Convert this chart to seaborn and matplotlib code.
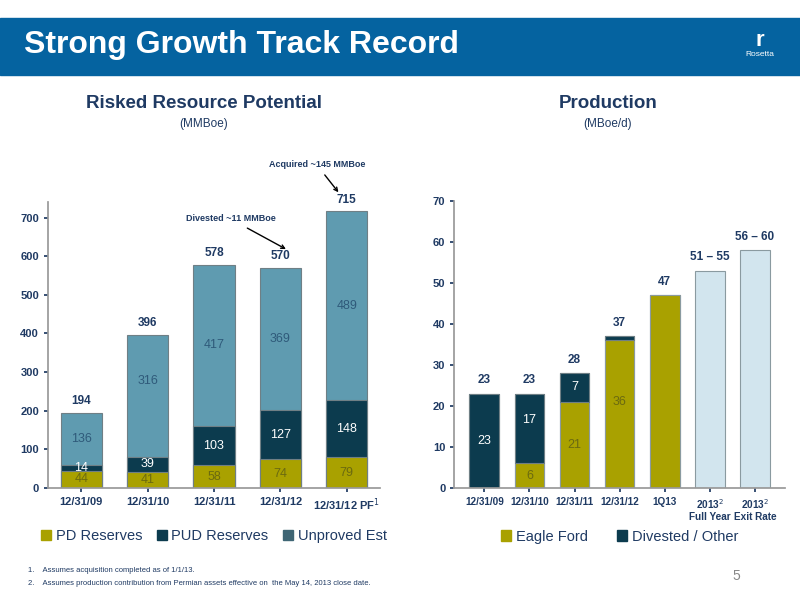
import numpy as np
import pandas as pd
import matplotlib
matplotlib.use("Agg")
import matplotlib.pyplot as plt
import seaborn as sns
from matplotlib.patches import Patch, Rectangle

# ----------- data -----------
res_labels = ["12/31/09", "12/31/10", "12/31/11", "12/31/12", "12/31/12 PF$^1$"]
pd_res = [44, 41, 58, 74, 79]
pud_res = [14, 39, 103, 127, 148]
unproved = [136, 316, 417, 369, 489]
res_totals = [194, 396, 578, 570, 715]

prod_labels = ["12/31/09", "12/31/10", "12/31/11", "12/31/12", "1Q13",
               "2013$^2$\nFull Year", "2013$^2$\nExit Rate"]
eagle_ford = [0, 6, 21, 36, 47, 0, 0]
divested = [23, 17, 7, 1, 0, 0, 0]
guidance = [0, 0, 0, 0, 0, 53, 58]
prod_tops = ["23", "23", "28", "37", "47", "51 – 55", "56 – 60"]

OLIVE = "#A9A100"
DARK = "#0C3B4E"
TEAL = "#5F9BB0"
LIGHT = "#D2E5EE"
NAVY = "#1F3A63"

sns.set_theme(style="white")
plt.rcParams['font.family'] = ['Liberation Sans', 'DejaVu Sans']

fig = plt.figure(figsize=(8, 6), dpi=100)

# header band
fig.patches.append(Rectangle((0, 1 - 75 / 600), 1, 57 / 600, transform=fig.transFigure,
                             color="#0563A0", zorder=0))
fig.text(0.03, 1 - 45 / 600, "Strong Growth Track Record", color="white",
         fontsize=23, fontweight="bold", va="center")
fig.text(0.95, 1 - 55 / 600, "Rosetta", color="white", fontsize=6, ha="center", va="center")
fig.text(0.95, 1 - 40 / 600, "r", color="white", fontsize=16, fontweight="bold",
         ha="center", va="center")

fig.text(0.255, 1 - 103 / 600, "Risked Resource Potential", color=NAVY, fontsize=13.5,
         fontweight="bold", ha="center", va="center")
fig.text(0.255, 1 - 124 / 600, "(MMBoe)", color=NAVY, fontsize=8.5, ha="center", va="center")
fig.text(0.76, 1 - 103 / 600, "Production", color=NAVY, fontsize=13.5,
         fontweight="bold", ha="center", va="center")
fig.text(0.76, 1 - 124 / 600, "(MBoe/d)", color=NAVY, fontsize=8.5, ha="center", va="center")


def style_axis(ax, xsize):
    for s in ["top", "right"]:
        ax.spines[s].set_visible(False)
    for s in ["left", "bottom"]:
        ax.spines[s].set_color("#999999")
    ax.tick_params(colors=NAVY, labelsize=8, length=3, left=True, bottom=True)
    ax.tick_params(axis="x", labelsize=xsize)
    for lbl in ax.get_xticklabels() + ax.get_yticklabels():
        lbl.set_fontweight("bold")
        lbl.set_color(NAVY)
    ax.set_xlabel("")
    ax.set_ylabel("")


# ----------- left chart -----------
ax1 = fig.add_axes([0.06, 0.187, 0.415, 0.476])
df1 = pd.DataFrame({"Date": res_labels, "PD": pd_res, "PUD": pud_res, "Unproved": unproved})
df1["c2"] = df1["PD"] + df1["PUD"]
df1["c3"] = df1["c2"] + df1["Unproved"]
for col, colr in [("c3", TEAL), ("c2", DARK), ("PD", OLIVE)]:
    sns.barplot(data=df1, x="Date", y=col, color=colr, width=0.62, ax=ax1,
                edgecolor="#6f7f85", linewidth=0.8, saturation=1)
ax1.set_ylim(0, 740)
ax1.set_yticks(range(0, 701, 100))
style_axis(ax1, 8)
for i in range(len(res_labels)):
    ax1.text(i, pd_res[i] / 2, str(pd_res[i]), ha="center", va="center", color="#6b6a10", fontsize=9)
    ax1.text(i, pd_res[i] + pud_res[i] / 2, str(pud_res[i]), ha="center", va="center",
             color="white", fontsize=9)
    ax1.text(i, df1["c2"][i] + unproved[i] / 2 + (40 if i == 1 else 0),
             str(unproved[i]), ha="center", va="center", color="#2f5a7a", fontsize=9)
    ax1.text(i, res_totals[i] + 15, str(res_totals[i]), ha="center", va="bottom", color=NAVY,
             fontsize=8.5, fontweight="bold")
ax1.annotate("Divested ~11 MMBoe", xy=(3.12, 615), xytext=(2.25, 690), color=NAVY, fontsize=6.5,
             fontweight="bold", ha="center", arrowprops=dict(arrowstyle="->", color="black"))
ax1.annotate("Acquired ~145 MMBoe", xy=(3.9, 760), xytext=(3.55, 830), color=NAVY, fontsize=6.5,
             fontweight="bold", ha="center", annotation_clip=False,
             arrowprops=dict(arrowstyle="->", color="black"))
ax1.legend(handles=[Patch(color=OLIVE, label="PD Reserves"), Patch(color=DARK, label="PUD Reserves"),
                    Patch(color="#3f6675", label="Unproved Est")],
           loc="upper center", bbox_to_anchor=(0.5, -0.1), ncol=3, frameon=False, fontsize=10.5,
           handlelength=0.7, handletextpad=0.3, columnspacing=1.0, labelcolor=NAVY)

# ----------- right chart -----------
ax2 = fig.add_axes([0.568, 0.187, 0.413, 0.478])
df2 = pd.DataFrame({"Period": prod_labels, "EF": eagle_ford, "Div": divested, "Guide": guidance})
df2["tot"] = df2["EF"] + df2["Div"] + df2["Guide"]
for col, colr in [("tot", LIGHT), ("EF", OLIVE)]:
    sns.barplot(data=df2, x="Period", y=col, color=colr, width=0.66, ax=ax2,
                edgecolor="#8a9aa0", linewidth=0.8, saturation=1)
# divested sits on top of Eagle Ford
for i in range(len(prod_labels)):
    if divested[i] > 0:
        ax2.bar(i, divested[i], bottom=eagle_ford[i], width=0.66, color=DARK,
                edgecolor="#6f7f85", linewidth=0.8)
ax2.set_ylim(0, 70)
ax2.set_yticks(range(0, 71, 10))
style_axis(ax2, 7.2)
for i in range(len(prod_labels)):
    if eagle_ford[i] > 0 and i < 4:
        ax2.text(i, eagle_ford[i] / 2 + (3 if i == 3 else 0), str(eagle_ford[i]), ha="center",
                 va="center", color="#6b6a10", fontsize=9)
    if divested[i] > 1:
        ax2.text(i, eagle_ford[i] + divested[i] / 2 + (2 if i == 1 else 0), str(divested[i]),
                 ha="center", va="center", color="white", fontsize=9)
    ax2.text(i, df2["tot"][i] + 1.8, prod_tops[i], ha="center", va="bottom", color=NAVY,
             fontsize=8.5, fontweight="bold")
ax2.legend(handles=[Patch(color=OLIVE, label="Eagle Ford"), Patch(color=DARK, label="Divested / Other")],
           loc="upper center", bbox_to_anchor=(0.5, -0.1), ncol=2, frameon=False, fontsize=10.5,
           handlelength=0.7, handletextpad=0.3, columnspacing=2.0, labelcolor=NAVY)

fig.text(0.035, 1 - 572 / 600, "1.    Assumes acquisition completed as of 1/1/13.", fontsize=5.5, color=NAVY)
fig.text(0.035, 1 - 585 / 600, "2.    Assumes production contribution from Permian assets effective on  the May 14, 2013 close date.",
         fontsize=5.5, color=NAVY)
fig.text(0.915, 1 - 580 / 600, "5", fontsize=10, color="#888888")

fig.savefig("out.png", dpi=100)
